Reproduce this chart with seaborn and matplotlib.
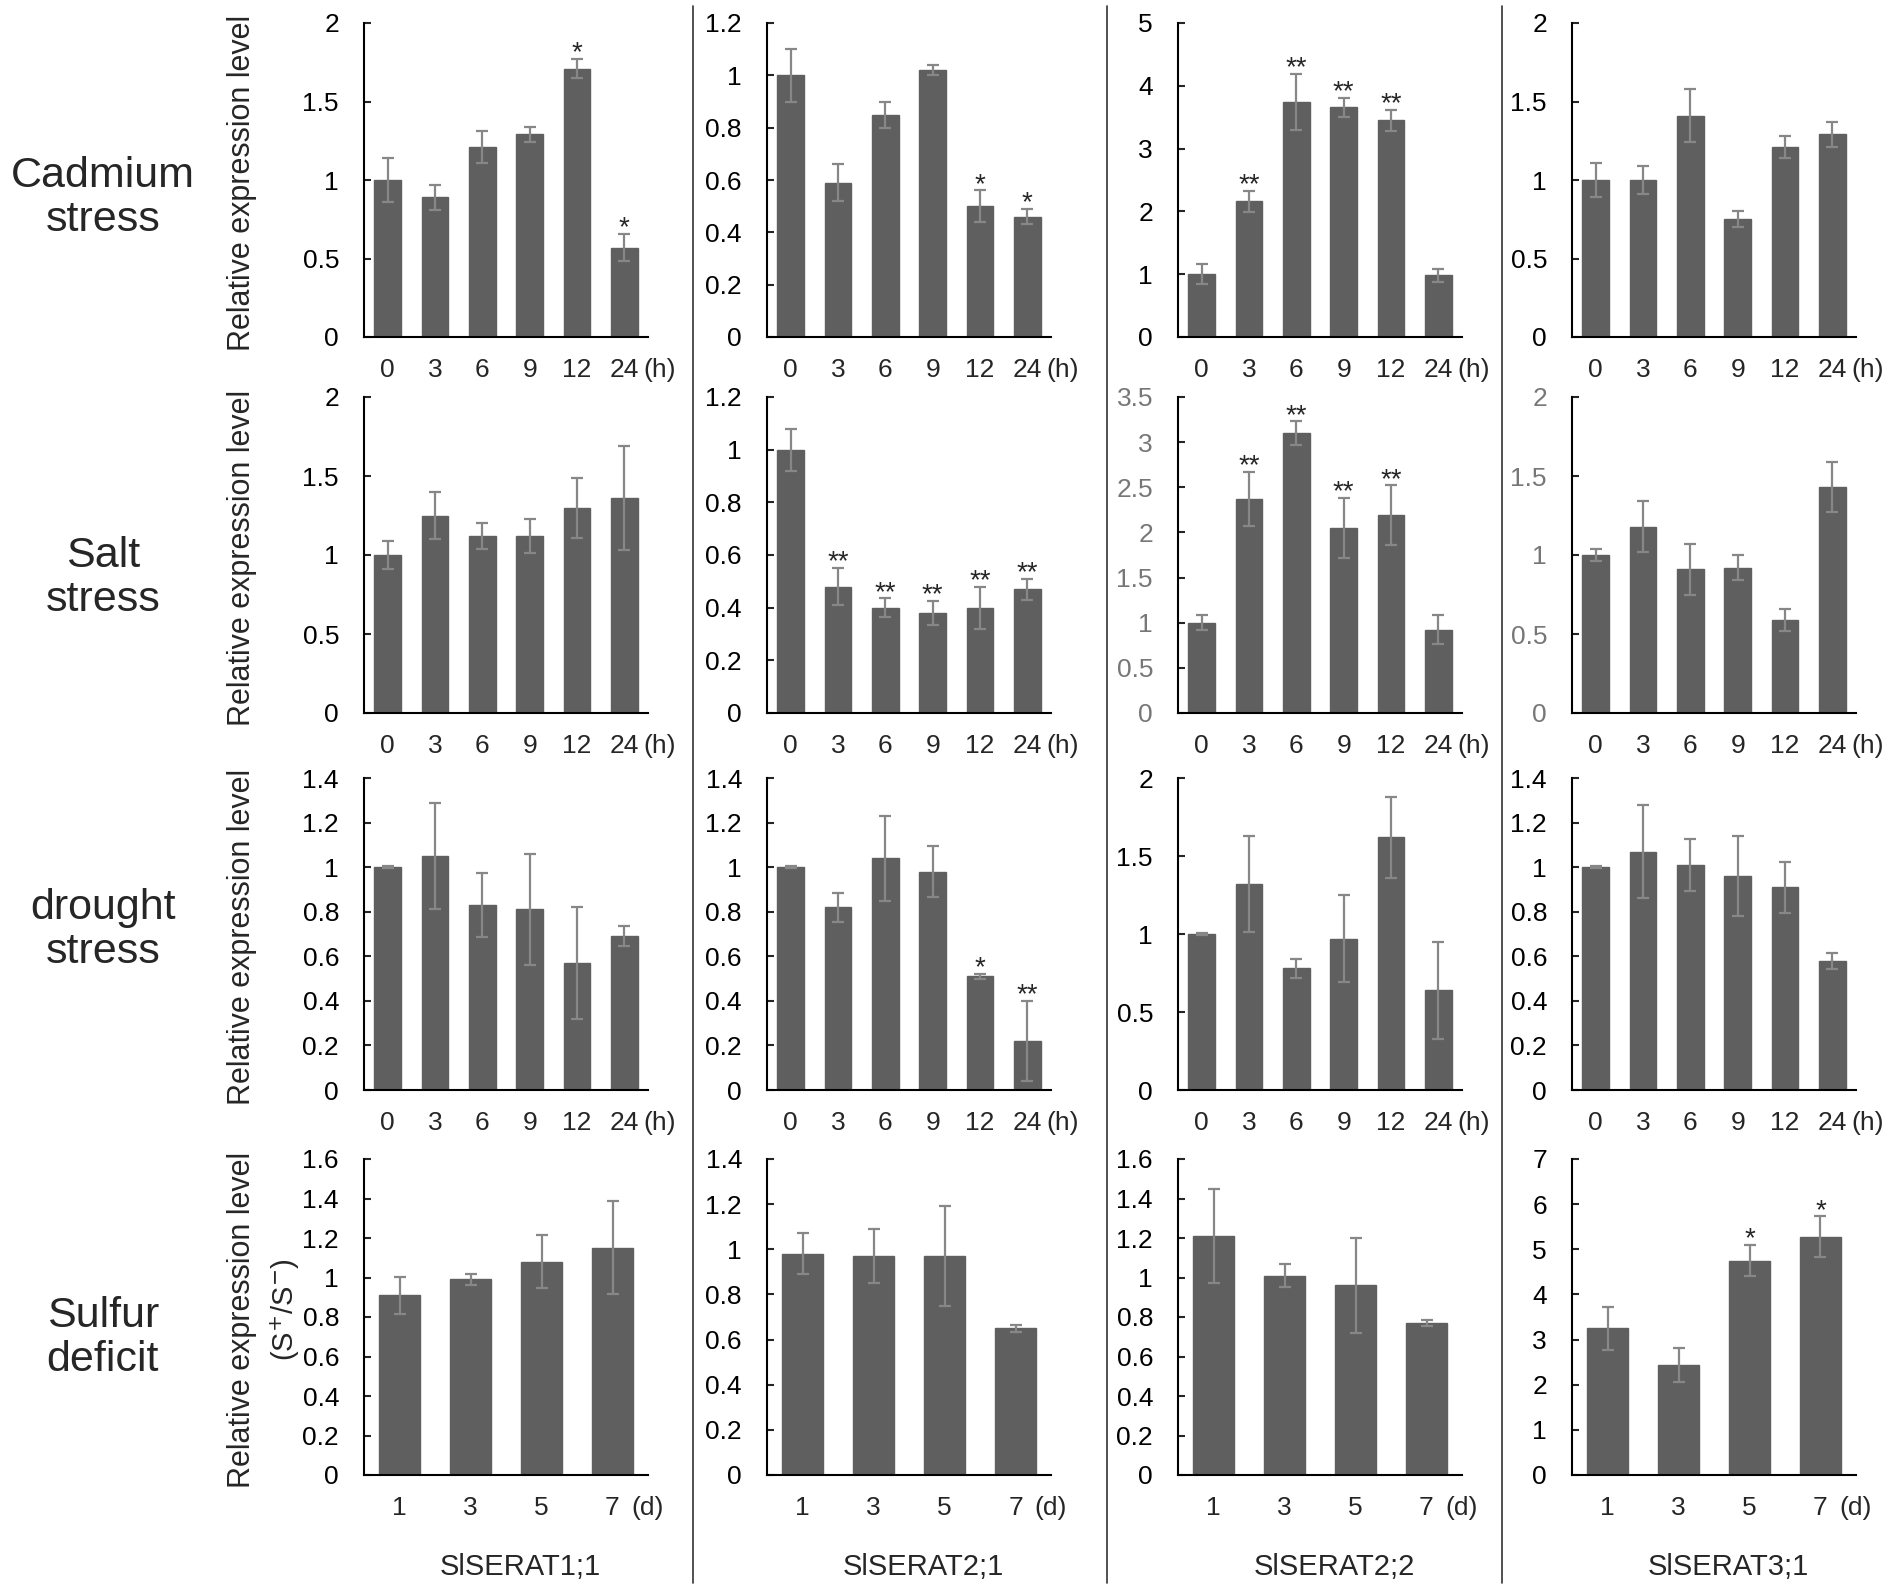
import numpy as np
import pandas as pd
import matplotlib
matplotlib.use('Agg')
import matplotlib.pyplot as plt
from matplotlib.lines import Line2D
from matplotlib.ticker import FuncFormatter
import seaborn as sns

sns.set_style('white')
plt.rcParams['font.family'] = ['Liberation Sans', 'DejaVu Sans']

#categories
hours = ['0', '3', '6', '9', '12', '24']
days = ['1', '3', '5', '7']
genes = ['SlSERAT1;1', 'SlSERAT2;1', 'SlSERAT2;2', 'SlSERAT3;1']
stresses = ['Cadmium\nstress', 'Salt\nstress', 'drought\nstress', 'Sulfur\ndeficit']

#cadmium stress, one list per gene
cd_mean = [[1.0, 0.89, 1.21, 1.29, 1.71, 0.57],
           [1.0, 0.59, 0.85, 1.02, 0.50, 0.46],
           [1.0, 2.16, 3.74, 3.66, 3.45, 0.98],
           [1.0, 1.0, 1.41, 0.75, 1.21, 1.29]]
cd_err = [[0.14, 0.08, 0.10, 0.05, 0.06, 0.085],
          [0.10, 0.07, 0.05, 0.02, 0.06, 0.03],
          [0.16, 0.17, 0.45, 0.15, 0.17, 0.10],
          [0.11, 0.09, 0.17, 0.05, 0.07, 0.08]]
cd_sig = [['', '', '', '', '*', '*'],
          ['', '', '', '', '*', '*'],
          ['', '**', '**', '**', '**', ''],
          ['', '', '', '', '', '']]
cd_ymax = [2, 1.2, 5, 2]
cd_ystep = [0.5, 0.2, 1, 0.5]

#salt stress
salt_mean = [[1.0, 1.25, 1.12, 1.12, 1.30, 1.36],
             [1.0, 0.48, 0.40, 0.38, 0.40, 0.47],
             [1.0, 2.37, 3.10, 2.05, 2.19, 0.92],
             [1.0, 1.18, 0.91, 0.92, 0.59, 1.43]]
salt_err = [[0.09, 0.15, 0.08, 0.11, 0.19, 0.33],
            [0.08, 0.07, 0.035, 0.045, 0.08, 0.04],
            [0.08, 0.30, 0.13, 0.33, 0.33, 0.16],
            [0.04, 0.16, 0.16, 0.08, 0.07, 0.16]]
salt_sig = [['', '', '', '', '', ''],
            ['', '**', '**', '**', '**', '**'],
            ['', '**', '**', '**', '**', ''],
            ['', '', '', '', '', '']]
salt_ymax = [2, 1.2, 3.5, 2]
salt_ystep = [0.5, 0.2, 0.5, 0.5]

#drought stress
dr_mean = [[1.0, 1.05, 0.83, 0.81, 0.57, 0.69],
           [1.0, 0.82, 1.04, 0.98, 0.51, 0.22],
           [1.0, 1.32, 0.78, 0.97, 1.62, 0.64],
           [1.0, 1.07, 1.01, 0.96, 0.91, 0.58]]
dr_err = [[0.003, 0.24, 0.145, 0.25, 0.25, 0.045],
          [0.003, 0.065, 0.19, 0.115, 0.01, 0.18],
          [0.005, 0.31, 0.06, 0.28, 0.26, 0.31],
          [0.003, 0.21, 0.115, 0.18, 0.115, 0.035]]
dr_sig = [['', '', '', '', '', ''],
          ['', '', '', '', '*', '**'],
          ['', '', '', '', '', ''],
          ['', '', '', '', '', '']]
dr_ymax = [1.4, 1.4, 2, 1.4]
dr_ystep = [0.2, 0.2, 0.5, 0.2]

#sulfur deficit (S+/S-)
su_mean = [[0.91, 0.99, 1.08, 1.15],
           [0.98, 0.97, 0.97, 0.65],
           [1.21, 1.01, 0.96, 0.77],
           [3.25, 2.43, 4.75, 5.28]]
su_err = [[0.095, 0.03, 0.135, 0.235],
          [0.09, 0.12, 0.22, 0.015],
          [0.24, 0.06, 0.24, 0.015],
          [0.48, 0.38, 0.34, 0.45]]
su_sig = [['', '', '', ''],
          ['', '', '', ''],
          ['', '', '', ''],
          ['', '', '*', '*']]
su_ymax = [1.6, 1.4, 1.6, 7]
su_ystep = [0.2, 0.2, 0.2, 1]

rows = [(hours, '(h)', cd_mean, cd_err, cd_sig, cd_ymax, cd_ystep),
        (hours, '(h)', salt_mean, salt_err, salt_sig, salt_ymax, salt_ystep),
        (hours, '(h)', dr_mean, dr_err, dr_sig, dr_ymax, dr_ystep),
        (days, '(d)', su_mean, su_err, su_sig, su_ymax, su_ystep)]

#layout in pixels
W, H = 1902, 1593
col_left = [364, 767, 1178, 1572]
col_w = 284
row_top = [23, 397, 778, 1159]
row_bot = [337, 713, 1090, 1475]
row_lab_y = [198, 578, 930, 1338]

bar_c = '#5f5f5f'
err_c = '#878787'

fig = plt.figure(figsize=(W / 100, H / 100), dpi=100)

for r, (cats, unit, means, errs, sigs, ymaxs, ysteps) in enumerate(rows):
    for c in range(4):
        ax = fig.add_axes([col_left[c] / W, 1 - row_bot[r] / H,
                           col_w / W, (row_bot[r] - row_top[r]) / H])
        df = pd.DataFrame({'t': cats, 'v': means[c]})
        n = len(cats)
        sns.barplot(data=df, x='t', y='v', order=cats, color=bar_c, saturation=1,
                    width=0.57, errorbar=None, edgecolor=bar_c, ax=ax)
        ax.errorbar(np.arange(n), means[c], yerr=errs[c], fmt='none', ecolor=err_c,
                    elinewidth=1.6, capsize=4, capthick=1.6, zorder=3)
        for i in range(n):
            if sigs[c][i]:
                ax.annotate(sigs[c][i], xy=(i, means[c][i] + errs[c][i]), xytext=(0, -1),
                            textcoords='offset points', ha='center', va='baseline',
                            fontsize=20)

        ax.set_xlim(-0.5, n - 0.5)
        ax.set_ylim(0, ymaxs[c])
        ax.set_yticks(np.arange(0, ymaxs[c] + ysteps[c] / 2, ysteps[c]))
        ax.yaxis.set_major_formatter(FuncFormatter(lambda v, p: f'{round(v, 2):g}'))
        ax.set_xticks(np.arange(n))
        ax.set_xticklabels(cats)
        ax.set_xticks(np.arange(n + 1) - 0.5, minor=True)
        ax.tick_params(axis='x', which='major', length=0, pad=15, labelsize=19)
        ax.tick_params(axis='x', which='minor', direction='in', length=5, width=1.5)
        ylab_c = '#777777' if (r == 1 and c >= 2) else 'black'
        ax.tick_params(axis='y', direction='in', length=5, width=1.5, pad=18,
                       labelsize=19, labelcolor=ylab_c, left=True)
        ax.set_xlabel('')
        ax.set_ylabel('')
        for s in ['top', 'right']:
            ax.spines[s].set_visible(False)
        for s in ['left', 'bottom']:
            ax.spines[s].set_linewidth(1.5)
            ax.spines[s].set_color('black')
        ax.annotate(unit, xy=(1, 0), xycoords='axes fraction',
                    xytext=(-3 if unit == '(h)' else -12, -15), textcoords='offset points',
                    ha='left', va='top', fontsize=19)

    # row label and y axis label
    yc = (row_top[r] + row_bot[r]) / 2
    fig.text(103 / W, 1 - row_lab_y[r] / H, stresses[r], ha='center', va='center',
             fontsize=31, linespacing=1.12)
    fig.text(242 / W, 1 - (yc + 3) / H, 'Relative expression level', rotation=90,
             ha='center', va='center', fontsize=22)
    if r == 3:
        fig.text(285 / W, 1 - (yc - 7) / H, '(S$^{+}$/S$^{-}$)', rotation=90,
                 ha='center', va='center', fontsize=21)

for c in range(4):
    fig.text((col_left[c] + col_w / 2 + 14) / W, 1 - 1567 / H, genes[c],
             ha='center', va='center', fontsize=21)

#separator lines between the genes
for x in [693, 1107, 1502]:
    fig.add_artist(Line2D([x / W, x / W], [1 - 6 / H, 1 - 1583 / H],
                          color='#333333', lw=1.2))

plt.savefig('out.png', dpi=100)
